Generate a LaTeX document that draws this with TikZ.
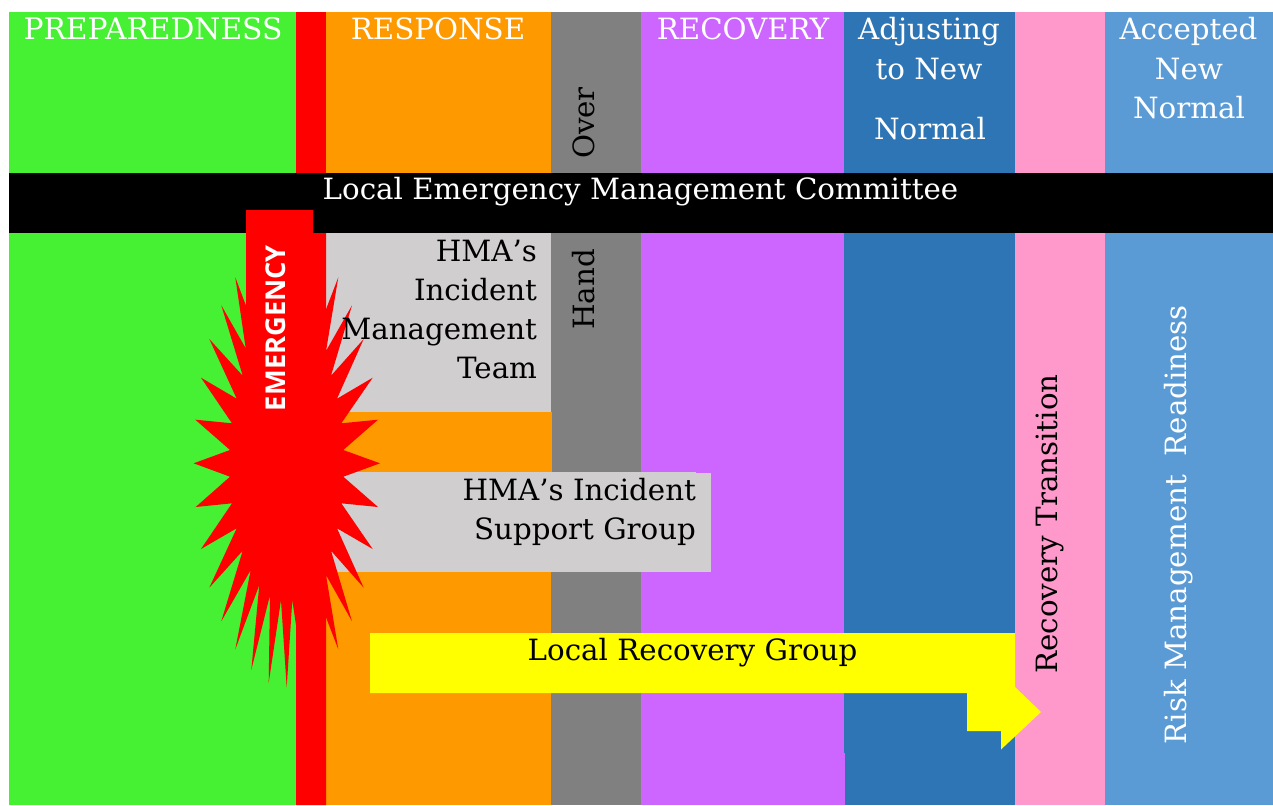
\documentclass[tikz,border=0pt]{standalone}
\usepackage{fontspec}
\setmainfont{DejaVu Serif}
\newfontfamily\emfont{Open Sans}
\definecolor{cgreen}{RGB}{70,240,50}
\definecolor{corange}{RGB}{255,153,0}
\definecolor{cgray}{RGB}{128,128,128}
\definecolor{cpurple}{RGB}{204,102,255}
\definecolor{cblue}{RGB}{46,117,182}
\definecolor{cpink}{RGB}{255,153,204}
\definecolor{clight}{RGB}{91,155,213}
\definecolor{cbox}{RGB}{208,206,206}
\definecolor{cyel}{RGB}{255,255,0}
\definecolor{cred}{RGB}{255,0,0}
\tikzset{
  lbl/.style={inner sep=0pt,outer sep=0pt,font=\fontsize{29.3}{34}\selectfont,anchor=base},
  wlbl/.style={lbl,text=white},
  klbl/.style={lbl,text=black},
}
\begin{document}
\begin{tikzpicture}[x=1pt,y=-1pt]
\useasboundingbox[fill=white] (0,0) rectangle (1273,805);
% columns
\fill[cgreen]  (9,12) rectangle (296,805);
\fill[cred]    (296,12) rectangle (326,805);
\fill[corange] (326,12) rectangle (551,805);
\fill[cgray]   (551,12) rectangle (641,805);
\fill[cpurple] (641,12) rectangle (845,805);
\fill[cblue]   (844,12) rectangle (1015,753);
\fill[cblue]   (845,753) rectangle (1015,805);
\fill[cpink]   (1015,12) rectangle (1105,805);
\fill[clight]  (1105,12) rectangle (1273,805);
\fill[corange] (551,412) rectangle (552,572);
% band
\fill[black] (9,173) rectangle (1273,233);
% grey boxes
\fill[cbox] (326,233) rectangle (551,412);
\fill[cbox] (326,472) rectangle (696,572);
\fill[cbox] (696,473) rectangle (711,572);
% emergency column and burst
\fill[cred] (246,210) -- (313,210) -- (313,233) -- (326,233) -- (326,805) -- (296,805) -- (296,600) -- (246,460) -- cycle;
\fill[cred] (235.3,277.3) -- (245.7,348.3) -- (221.3,305.3) -- (242.7,375.7) -- (209.3,339) -- (236.7,398.7)
  -- (201,377.7) -- (232,423.3) -- (195.3,419.7) -- (230,450) -- (193.7,463.3) -- (230,476.7)
  -- (195.7,507) -- (232,503.3) -- (201,549) -- (236.7,528.3) -- (209.3,587.7) -- (242.7,550.7)
  -- (221.3,621.3) -- (250.7,570) -- (235.3,649.3) -- (259.3,585) -- (251.3,670) -- (270,595)
  -- (268.7,682.7) -- (281,600) -- (286.7,687.3) -- (292.3,600) -- (296,625) -- (326,617.3)
  -- (338.3,649.3) -- (326,575) -- (352,621.3) -- (331,550.7) -- (363.7,587.7) -- (337,528.3)
  -- (372.7,549) -- (341.3,503.3) -- (378,507) -- (343.3,476.7) -- (380,463.3) -- (343.3,450)
  -- (378,419.7) -- (341.3,423.3) -- (372.7,377.7) -- (337,398.7) -- (363.7,339) -- (331,375.7)
  -- (352,305.3) -- (326,351) -- (338.3,277.3) -- (326,309.3) -- (300,300) -- (245.7,305) -- cycle;
% yellow arrow
\fill[cyel] (370,633) -- (1015,633) -- (1015,687) -- (1041,712) -- (1001,749.5) -- (1001,731)
  -- (967,731) -- (967,693) -- (370,693) -- cycle;
% labels
\node[wlbl,font=\fontsize{29.75}{34}\selectfont] (prep) at (153,40) {PREPAREDNESS};
\node[wlbl] (resp) at (438,40) {RESPONSE};
\node[wlbl] (reco) at (743,40) {RECOVERY};
\node[wlbl] (adj1) at (929,40) {Adjusting};
\node[wlbl] (adj2) at (929,80) {to New};
\node[wlbl] (adj3) at (930,140) {Normal};
\node[wlbl] (acc1) at (1188.5,40) {Accepted};
\node[wlbl] (acc2) at (1189,80) {New};
\node[wlbl] (acc3) at (1189,119) {Normal};
\node[wlbl] (lemc) at (640.5,200) {Local Emergency Management Committee};
\node[klbl,anchor=base east] (imt1) at (537,261) {HMA\kern0pt’\kern0pt s};
\node[klbl,anchor=base east] (imt2) at (537,300) {Incident};
\node[klbl,anchor=base east] (imt3) at (537,339) {Management};
\node[klbl,anchor=base east] (imt4) at (537,378) {Team};
\node[klbl,anchor=base east] (isg1) at (696,500) {HMA\kern0pt’\kern0pt s Incident};
\node[klbl,anchor=base east] (isg2) at (696,539) {Support Group};
\node[klbl] (lrg) at (692.5,660) {Local Recovery Group};
\node[klbl,rotate=90] (over) at (594,123) {Over};
\node[klbl,rotate=90] (hand) at (594,289.5) {Hand};
\node[klbl,rotate=90] (rectr) at (1057,524) {Recovery Transition};
\node[wlbl,rotate=90] (risk) at (1186,524.5) {Risk Management\ \ Readiness};
\node[lbl,rotate=90,text=white,font=\emfont\bfseries\fontsize{27.3}{30}\selectfont] (emer) at (285,328) {EMERGENCY};
\end{tikzpicture}
\end{document}
